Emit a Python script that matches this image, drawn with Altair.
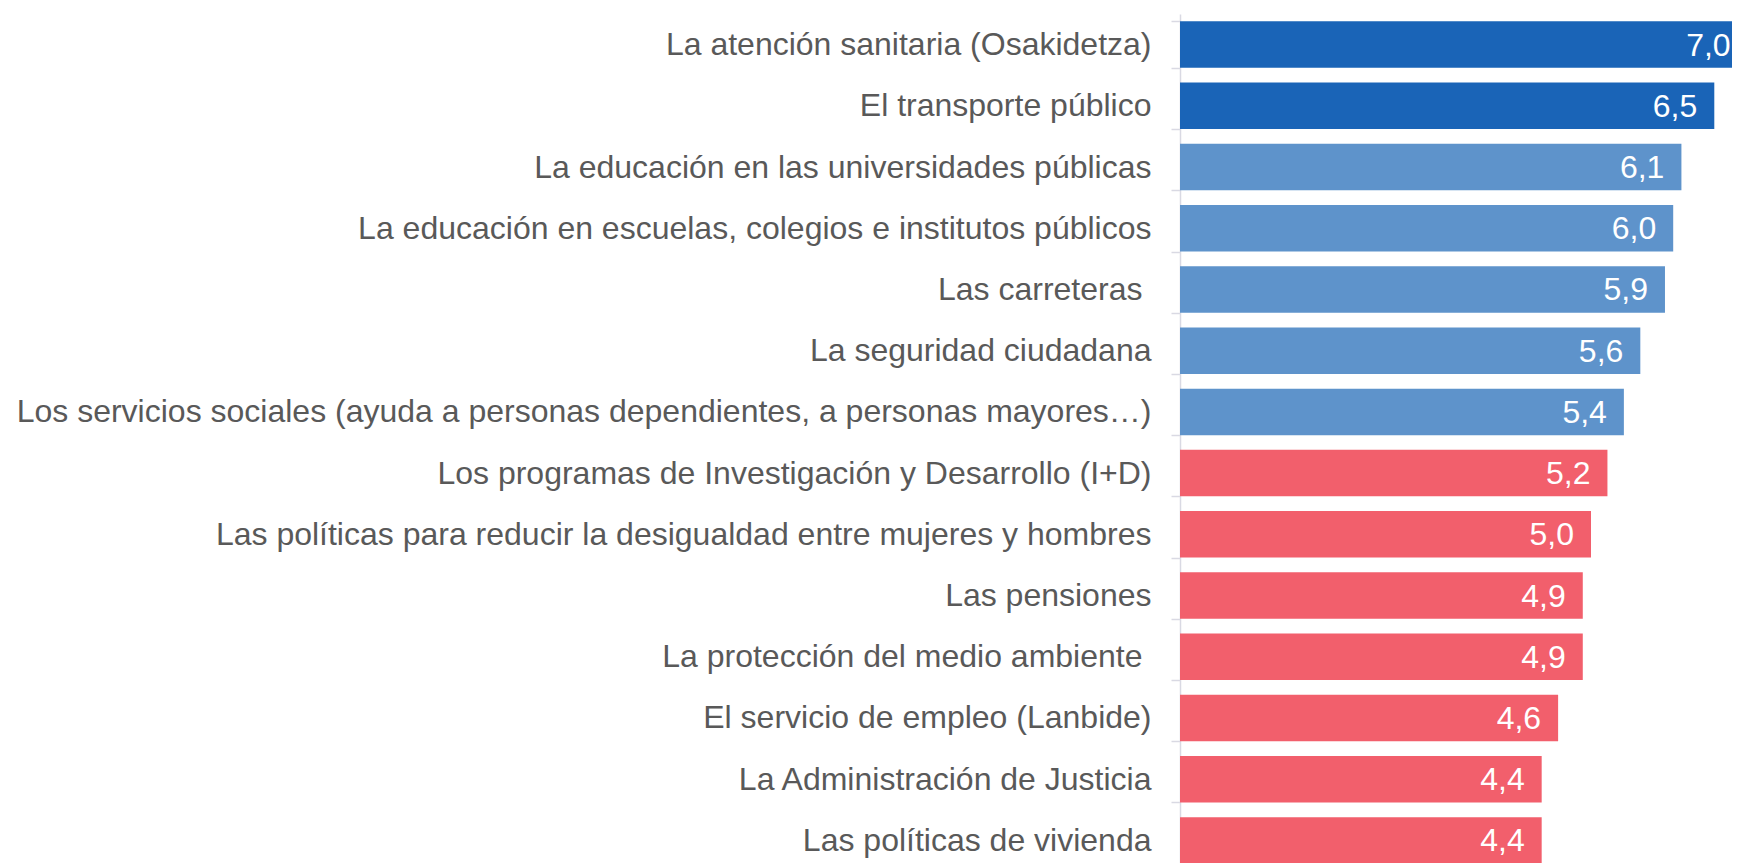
import altair as alt
import pandas as pd

categories = [
    "La atención sanitaria (Osakidetza)",
    "El transporte público",
    "La educación en las universidades públicas",
    "La educación en escuelas, colegios e institutos públicos",
    "Las carreteras ",
    "La seguridad ciudadana",
    "Los servicios sociales (ayuda a personas dependientes, a personas mayores…)",
    "Los programas de Investigación y Desarrollo (I+D)",
    "Las políticas para reducir la desigualdad entre mujeres y hombres",
    "Las pensiones",
    "La protección del medio ambiente ",
    "El servicio de empleo (Lanbide)",
    "La Administración de Justicia",
    "Las políticas de vivienda",
]
values = [7.0, 6.5, 6.1, 6.0, 5.9, 5.6, 5.4, 5.2, 5.0, 4.9, 4.9, 4.6, 4.4, 4.4]
groups = ["alta"] * 2 + ["media"] * 5 + ["baja"] * 7

group_names = ["alta", "media", "baja"]
group_colors = ["#1A64B7", "#5E93CB", "#F25F6C"]

df = pd.DataFrame({"servicio": categories, "nota": values, "grupo": groups})

PLOT_W = 552
XMAX = PLOT_W / 82.2
FONT = "Liberation Sans, Arial, sans-serif"

x_scale = alt.Scale(domain=[0, XMAX], nice=False, zero=True)

trailing = "datum.value == 'Las carreteras ' || datum.value == 'La protección del medio ambiente '"

y_enc = alt.Y(
    "servicio:N",
    sort=None,
    title=None,
    scale=alt.Scale(paddingInner=0.24, paddingOuter=0.12),
    axis=alt.Axis(
        labelFont=FONT,
        labelFontSize=32,
        labelColor="#595959",
        labelLimit=1500,
        labelPadding={"condition": {"test": trailing, "value": 29}, "value": 20},
        tickSize=9,
        tickColor="#D9D9E3",
        domainColor="#D9D9E3",
        domainWidth=1.5,
        tickWidth=1.5,
        tickBand="extent",
        grid=False,
    ),
)

bars = alt.Chart(df).mark_bar(clip=True).encode(
    x=alt.X("nota:Q", scale=x_scale, axis=None),
    y=y_enc,
    color=alt.Color("grupo:N", scale=alt.Scale(domain=group_names, range=group_colors), legend=None),
)

labels = alt.Chart(df).transform_calculate(
    etiqueta="replace(format(datum.nota, '.1f'), '.', ',')",
    pos=f"min(datum.nota, {XMAX} + 0.19)",
).mark_text(
    align="right", baseline="middle", dx=-17, dy=1, color="white", font=FONT, fontSize=32
).encode(
    x=alt.X("pos:Q", scale=x_scale, axis=None),
    y=y_enc,
    text="etiqueta:N",
)

chart = (
    alt.layer(bars, labels)
    .properties(
        width=PLOT_W,
        height=857,
        padding={"left": 1172, "top": 6, "right": 0, "bottom": 0},
        autosize=alt.AutoSizeParams(type="none"),
        background="white",
    )
    .configure_view(stroke=None)
)

chart.save("out.html", embed_options={"renderer": "svg", "actions": False})
